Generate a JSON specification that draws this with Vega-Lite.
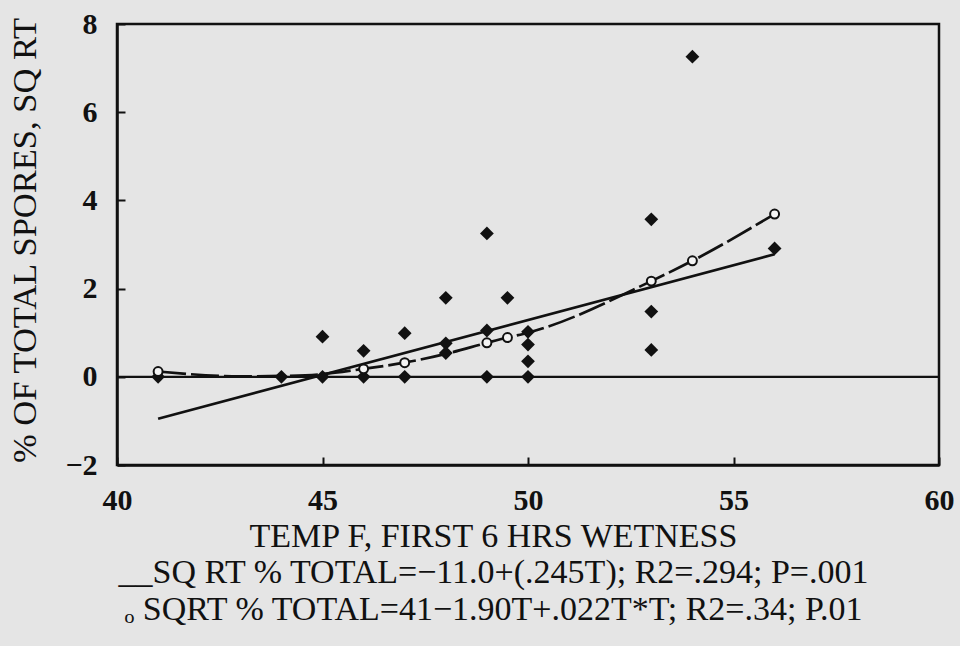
{
  "$schema": "https://vega.github.io/schema/vega-lite/v6.json",
  "width": 822,
  "height": 441,
  "autosize": {"type": "none"},
  "padding": {"left": 117, "top": 24, "right": 21, "bottom": 181},
  "background": "#e5e5e5",
  "config": {
    "view": {"stroke": "#111111", "strokeWidth": 2.5},
    "font": "Liberation Serif",
    "axis": {
      "grid": false,
      "domainColor": "#111111",
      "domainWidth": 2.5,
      "tickColor": "#111111",
      "tickWidth": 2,
      "tickSize": -8,
      "labelPadding": 28,
      "labelFont": "Liberation Serif",
      "labelFontSize": 30,
      "labelFontWeight": "bold",
      "labelColor": "#111111",
      "labelFlush": false,
      "labelOverlap": false,
      "titleFont": "Liberation Serif",
      "titleColor": "#111111",
      "titleFontWeight": "normal"
    }
  },
  "datasets": {
    "diamonds": [
      {"t": 41, "v": 0}, {"t": 44, "v": 0},
      {"t": 45, "v": 0.91}, {"t": 45, "v": 0},
      {"t": 46, "v": 0.59}, {"t": 46, "v": 0},
      {"t": 47, "v": 0.99}, {"t": 47, "v": 0},
      {"t": 48, "v": 1.79}, {"t": 48, "v": 0.76}, {"t": 48, "v": 0.54},
      {"t": 49, "v": 3.25}, {"t": 49, "v": 1.05}, {"t": 49, "v": 0},
      {"t": 49.5, "v": 1.79},
      {"t": 50, "v": 1.02}, {"t": 50, "v": 0.73}, {"t": 50, "v": 0.35}, {"t": 50, "v": 0},
      {"t": 53, "v": 3.57}, {"t": 53, "v": 1.48}, {"t": 53, "v": 0.61},
      {"t": 54, "v": 7.26},
      {"t": 56, "v": 2.91}
    ],
    "circles": [
      {"t": 41, "v": 0.12}, {"t": 46, "v": 0.18}, {"t": 47, "v": 0.32},
      {"t": 49, "v": 0.77}, {"t": 49.5, "v": 0.89}, {"t": 53, "v": 2.17},
      {"t": 54, "v": 2.63}, {"t": 56, "v": 3.69}
    ],
    "curve": [
      {"t": 41, "v": 0.12}, {"t": 43, "v": 0.01}, {"t": 44, "v": 0.02},
      {"t": 45, "v": 0.06}, {"t": 46, "v": 0.18}, {"t": 47, "v": 0.32},
      {"t": 48, "v": 0.52}, {"t": 49, "v": 0.77}, {"t": 49.5, "v": 0.89},
      {"t": 50, "v": 1.0}, {"t": 53, "v": 2.17}, {"t": 54, "v": 2.63},
      {"t": 56, "v": 3.69}
    ],
    "linear": [
      {"t": 41, "v": -0.95}, {"t": 56, "v": 2.78}
    ],
    "zero": [
      {"t0": 40, "t1": 60, "v": 0}
    ]
  },
  "layer": [
    {
      "data": {"name": "zero"},
      "mark": {"type": "rule", "color": "#111111", "strokeWidth": 2.2},
      "encoding": {
        "x": {
          "field": "t0", "type": "quantitative",
          "scale": {"domain": [40, 60], "nice": false, "zero": false},
          "axis": {
            "values": [40, 45, 50, 55, 60],
            "title": [
              "TEMP F, FIRST 6 HRS WETNESS",
              "__SQ RT % TOTAL=−11.0+(.245T); R2=.294; P=.001",
              "ₒ SQRT % TOTAL=41−1.90T+.022T*T; R2=.34; P.01"
            ],
            "titleFontSize": 34,
            "titleLineHeight": 36.5,
            "titleX": 376,
            "titleY": 54,
            "titleBaseline": "top",
            "titleAlign": "center",
            "titleAnchor": null
          }
        },
        "x2": {"field": "t1"},
        "y": {
          "field": "v", "type": "quantitative",
          "scale": {"domain": [-2, 8], "nice": false, "zero": false},
          "axis": {
            "values": [-2, 0, 2, 4, 6, 8],
            "title": "% OF TOTAL SPORES, SQ RT",
            "titleFontSize": 34.5,
            "titleAngle": -90,
            "titleX": -82,
            "titleY": 216,
            "titleBaseline": "alphabetic",
            "titleAlign": "center"
          }
        }
      }
    },
    {
      "data": {"name": "linear"},
      "mark": {"type": "line", "color": "#111111", "strokeWidth": 2.7},
      "encoding": {
        "x": {"field": "t", "type": "quantitative"},
        "y": {"field": "v", "type": "quantitative"}
      }
    },
    {
      "data": {"name": "curve"},
      "mark": {"type": "line", "color": "#111111", "strokeWidth": 2.7, "interpolate": "monotone", "strokeDash": [28, 5]},
      "encoding": {
        "x": {"field": "t", "type": "quantitative"},
        "y": {"field": "v", "type": "quantitative"}
      }
    },
    {
      "data": {"name": "diamonds"},
      "mark": {"type": "point", "shape": "diamond", "filled": true, "color": "#111111", "size": 190, "opacity": 1},
      "encoding": {
        "x": {"field": "t", "type": "quantitative"},
        "y": {"field": "v", "type": "quantitative"}
      }
    },
    {
      "data": {"name": "circles"},
      "mark": {"type": "point", "shape": "circle", "filled": false, "fill": "#f4f4f4", "fillOpacity": 1, "stroke": "#111111", "strokeWidth": 2, "size": 80, "opacity": 1},
      "encoding": {
        "x": {"field": "t", "type": "quantitative"},
        "y": {"field": "v", "type": "quantitative"}
      }
    }
  ]
}
